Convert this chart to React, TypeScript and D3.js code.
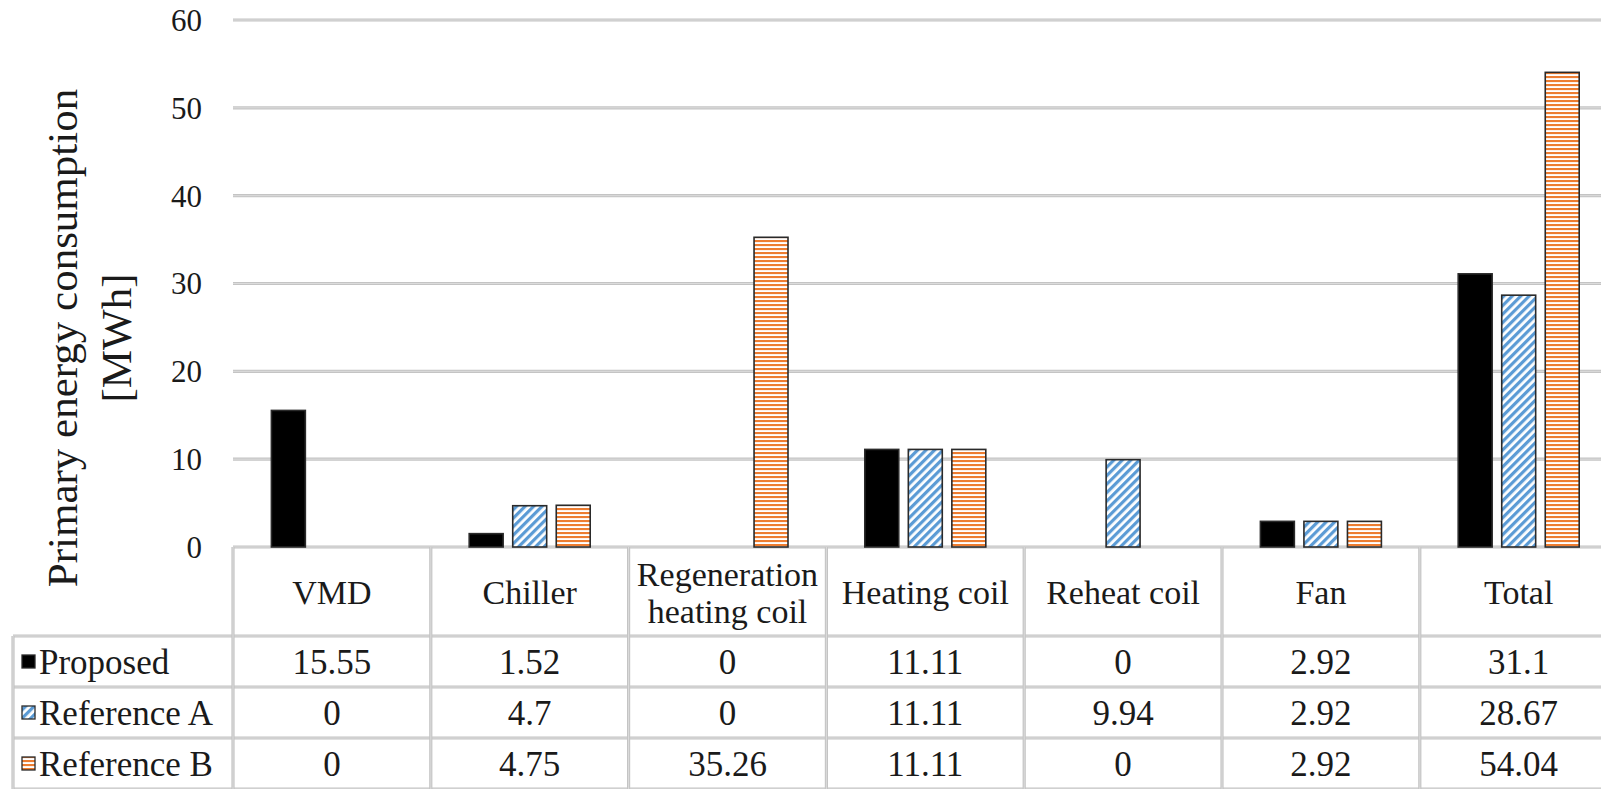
import React from "react";
import * as d3 from "d3";

// Primary energy consumption by component [MWh]
const categories = ["VMD", "Chiller", "Regeneration heating coil", "Heating coil", "Reheat coil", "Fan", "Total"];
const headerLines = [["VMD"], ["Chiller"], ["Regeneration", "heating coil"], ["Heating coil"], ["Reheat coil"], ["Fan"], ["Total"]];
const seriesNames = ["Proposed", "Reference A", "Reference B"];
const proposed = [15.55, 1.52, 0, 11.11, 0, 2.92, 31.1];
const referenceA = [0, 4.7, 0, 11.11, 9.94, 2.92, 28.67];
const referenceB = [0, 4.75, 35.26, 11.11, 0, 2.92, 54.04];
const yTicks = [0, 10, 20, 30, 40, 50, 60];

const seriesValues = [proposed, referenceA, referenceB];
const seriesFills = ["#000000", "url(#patA)", "url(#patB)"];

const W = 1601;
const H = 789;
const plotLeft = 233;
const colW = 197.8;
const yTop = 20;
const yZero = 547;
const headerBottom = 636;
const rowH = 51;
const tableLeft = 13;
const FONT = "Liberation Serif";
const GRID = "#c4c4c4";

export default function App() {
  const x0 = d3
    .scaleBand<string>()
    .domain(categories)
    .range([plotLeft, plotLeft + colW * categories.length])
    .paddingInner(0)
    .paddingOuter(0);
  const groupW = 121;
  const x1 = d3.scaleBand<string>().domain(seriesNames).range([0, groupW]).paddingInner(0.22).paddingOuter(0);
  const y = d3.scaleLinear().domain([0, 60]).range([yZero, yTop]);

  const rowsTop = seriesNames.map((_, i) => headerBottom + i * rowH);
  const colEdges = categories.map((c) => x0(c) as number).concat([plotLeft + colW * categories.length]);

  const gridLine = (key: string, x1p: number, y1p: number, x2p: number, y2p: number) => (
    <g key={key}>
      <line x1={x1p} y1={y1p} x2={x2p} y2={y2p} stroke={GRID} strokeWidth={3.2} />
      <line x1={x1p} y1={y1p} x2={x2p} y2={y2p} stroke="#dcdcdc" strokeWidth={1} />
    </g>
  );

  const tableFont = 35;
  const headerFont = 34;

  return (
    <div style={{ position: "absolute", left: 0, top: 0, width: W, height: H, background: "#fff" }}>
      <svg width={W} height={H} viewBox={`0 0 ${W} ${H}`} style={{ display: "block" }} fontFamily={FONT} fill="#1a1a1a">
        <defs>
          <pattern id="patA" patternUnits="userSpaceOnUse" width={6} height={6} patternTransform="rotate(45)">
            <rect width={6} height={6} fill="#ffffff" />
            <rect width={3.2} height={6} fill="#5b9bd5" />
          </pattern>
          <pattern id="patB" patternUnits="userSpaceOnUse" width={4} height={4}>
            <rect width={4} height={4} fill="#ffffff" />
            <rect width={4} height={2.1} fill="#ed7d31" />
          </pattern>
        </defs>
        <rect width={W} height={H} fill="#ffffff" />

        {/* gridlines and tick labels */}
        {yTicks.map((t) =>
          t === 0 ? null : gridLine(`g${t}`, plotLeft, y(t), W, y(t))
        )}
        {yTicks.map((t) => (
          <text key={`t${t}`} x={202} y={y(t)} dy="0.35em" textAnchor="end" fontFamily={FONT} fontSize={31}>
            {t}
          </text>
        ))}

        {/* axis title */}
        <g fontFamily={FONT} fontSize={43}>
          <text transform={`translate(77,338) rotate(-90)`} textAnchor="middle">
            Primary energy consumption
          </text>
          <text transform={`translate(131,338) rotate(-90)`} textAnchor="middle">
            [MWh]
          </text>
        </g>

        {/* table grid */}
        {gridLine("hx", plotLeft, yZero, W, yZero)}
        {rowsTop.map((r, i) => gridLine(`hr${i}`, tableLeft, r, W, r))}
        {gridLine("hb", tableLeft, headerBottom + 3 * rowH, W, headerBottom + 3 * rowH)}
        {gridLine("vl", tableLeft, headerBottom, tableLeft, H)}
        {colEdges.map((e, i) => gridLine(`v${i}`, e, yZero, e, H))}

        {/* bars */}
        {categories.map((c, ci) => (
          <g key={`bars${ci}`} transform={`translate(${(x0(c) as number) + (colW - groupW) / 2},0)`}>
            {seriesNames.map((s, si) => {
              const v = seriesValues[si][ci];
              if (v <= 0) return null;
              return (
                <rect
                  key={s}
                  x={x1(s)}
                  y={y(v)}
                  width={x1.bandwidth()}
                  height={yZero - y(v)}
                  fill={seriesFills[si]}
                  stroke="#2a2a2a"
                  strokeWidth={1.6}
                />
              );
            })}
          </g>
        ))}

        {/* category header row */}
        {categories.map((c, ci) => {
          const cx = (x0(c) as number) + colW / 2;
          const lines = headerLines[ci];
          const mid = (yZero + headerBottom) / 2 + 1;
          const lh = 37;
          return (
            <text key={`h${ci}`} textAnchor="middle" fontFamily={FONT} fontSize={headerFont}>
              {lines.map((ln, li) => (
                <tspan key={li} x={cx} y={mid + (li - (lines.length - 1) / 2) * lh} dy="0.35em">
                  {ln}
                </tspan>
              ))}
            </text>
          );
        })}

        {/* data rows with legend keys */}
        {seriesNames.map((s, si) => {
          const cy = rowsTop[si] + rowH / 2;
          return (
            <g key={`row${si}`} fontFamily={FONT} fontSize={tableFont}>
              <rect x={22} y={cy - 6.5} width={13} height={13} fill={seriesFills[si]} stroke="#2a2a2a" strokeWidth={1.3} />
              <text x={39} y={cy} dy="0.35em">
                {s}
              </text>
              {categories.map((c, ci) => (
                <text key={c} x={(x0(c) as number) + colW / 2} y={cy} dy="0.35em" textAnchor="middle">
                  {String(seriesValues[si][ci])}
                </text>
              ))}
            </g>
          );
        })}
      </svg>
    </div>
  );
}
